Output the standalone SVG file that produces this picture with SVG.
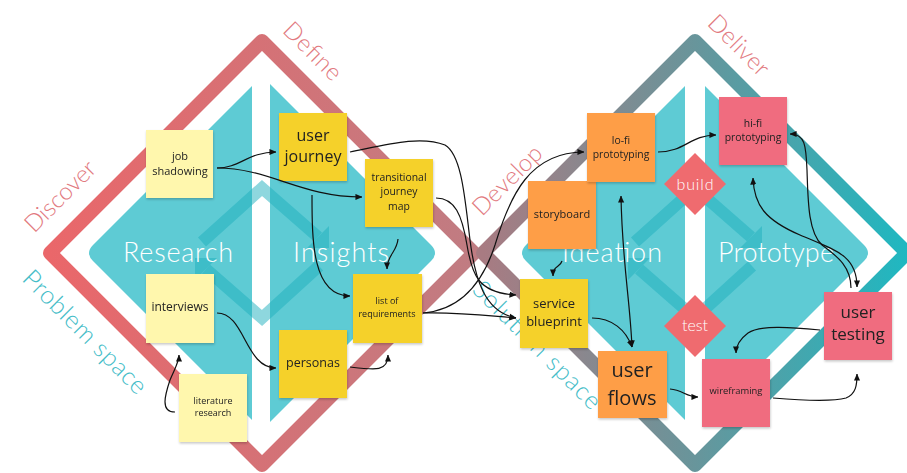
<svg xmlns="http://www.w3.org/2000/svg" width="907" height="473" viewBox="0 0 907 473">
  <defs>
    <style>
      .ring{fill:none;stroke-width:14;stroke-linejoin:round}
      .teal{fill:#5ecbd4}
      .chev{fill:none;stroke:#1fb0be;stroke-width:12;stroke-linejoin:miter}
      .head{fill:#1fb0be}
      .phase{font-family:"Lato","Open Sans","Liberation Sans",sans-serif;font-weight:300;font-size:27px;fill:#ffffff;text-anchor:middle}
      .stage{font-family:"Lato","Open Sans","Liberation Sans",sans-serif;font-weight:300;font-size:24px;fill:#e27a80;text-anchor:middle}
      .space{font-family:"Lato","Open Sans","Liberation Sans",sans-serif;font-weight:300;font-size:25px;fill:#45bdc8;text-anchor:middle}
      .gate{fill:#ef6b6f}
      .gatet{font-family:"Lato","Open Sans","Liberation Sans",sans-serif;font-weight:300;font-size:16px;fill:#ffffff;text-anchor:middle}
      .note{filter:url(#shadow)}
      .ly{fill:#fff7ad}
      .yl{fill:#f5d12a}
      .or{fill:#fe9e47}
      .pk{fill:#f06c7f}
      .nt{font-family:"Open Sans","Liberation Sans",sans-serif;fill:#222222;text-anchor:middle}
      .cn{fill:none;stroke:#111111;stroke-width:1.2}
    </style>
    <linearGradient id="ringL" gradientUnits="userSpaceOnUse" x1="50" y1="0" x2="474" y2="0">
      <stop offset="0" stop-color="#ea676a"/>
      <stop offset="1" stop-color="#c07c82"/>
    </linearGradient>
    <linearGradient id="ringR" gradientUnits="userSpaceOnUse" x1="483" y1="0" x2="907" y2="0">
      <stop offset="0" stop-color="#a87b82"/>
      <stop offset="0.5" stop-color="#68959b"/>
      <stop offset="1" stop-color="#1fb8c1"/>
    </linearGradient>
    <filter id="shadow" x="-10%" y="-10%" width="130%" height="130%">
      <feDropShadow dx="0.5" dy="1.5" stdDeviation="1" flood-color="#000" flood-opacity="0.22"/>
    </filter>
    <marker id="ah" viewBox="0 0 8 8" refX="7.5" refY="4" markerWidth="7" markerHeight="7" markerUnits="userSpaceOnUse" orient="auto-start-reverse">
      <path d="M0,0.5 L8,4 L0,7.5 z" fill="#111111"/>
    </marker>
  </defs>

  <rect width="907" height="473" fill="#ffffff"/>

  <!-- outer double-diamond rings -->
  <g id="rings">
    <path class="ring" stroke="url(#ringL)" d="M262,41 L474,253 L262,465 L50,253 Z"/>
    <path class="ring" stroke="url(#ringR)" d="M695,41 L907,253 L695,465 L483,253 Z"/>
  </g>

  <!-- teal inner diamonds, each split into two halves -->
  <g id="problem-core">
    <path class="teal" d="M252,86 L93,245 Q85,253 93,261 L252,420 Z"/>
    <path class="teal" d="M270,84 L431,245 Q439,253 431,261 L270,422 Z"/>
  </g>
  <g id="solution-core">
    <path class="teal" d="M685,86 L526,245 Q518,253 526,261 L685,420 Z"/>
    <path class="teal" d="M705,86 L864,245 Q872,253 864,261 L705,420 Z"/>
  </g>

  <!-- iteration cycles inside each diamond -->
  <g id="cycle-left" opacity="0.5">
    <polyline class="chev" points="202,242 262,188 318,237"/>
    <polygon class="head" points="329,248 329,226 307,248"/>
    <polyline class="chev" points="206,269 262,318 319,266"/>
    <polygon class="head" points="195,258 195,280 217,258"/>
  </g>
  <g id="cycle-right" opacity="0.5">
    <polyline class="chev" points="635,242 695,188 751,237"/>
    <polygon class="head" points="762,248 762,226 740,248"/>
    <polyline class="chev" points="639,269 695,318 752,266"/>
    <polygon class="head" points="628,258 628,280 650,258"/>
  </g>

  <!-- phase names -->
  <g id="phases">
    <text class="phase" x="178" y="262" textLength="110">Research</text>
    <text class="phase" x="341" y="262" textLength="96">Insights</text>
    <text class="phase" x="612" y="262" textLength="100">Ideation</text>
    <text class="phase" x="776" y="262" textLength="116">Prototype</text>
  </g>

  <!-- stage labels along the rings -->
  <g id="stages">
    <text class="stage" transform="translate(66,202) rotate(-45)" textLength="90">Discover</text>
    <text class="stage" transform="translate(307,57) rotate(45)" textLength="72">Define</text>
    <text class="stage" transform="translate(513,186) rotate(-45)" textLength="88">Develop</text>
    <text class="stage" transform="translate(733,51) rotate(45)" textLength="76">Deliver</text>
    <text class="space" transform="translate(79,338) rotate(45)" textLength="164">Problem space</text>
    <text class="space" transform="translate(531,351) rotate(45)" textLength="170">Solution space</text>
  </g>

  <!-- build / test gates -->
  <g id="gate-build">
    <path class="gate" d="M695,153 L726,184 L695,215 L664,184 Z"/>
    <text class="gatet" x="695" y="190" textLength="37">build</text>
  </g>
  <g id="gate-test">
    <path class="gate" d="M695,295 L726,326 L695,357 L664,326 Z"/>
    <text class="gatet" x="695" y="331" textLength="26">test</text>
  </g>

  <!-- sticky notes -->
  <g id="job-shadowing" class="note">
    <rect class="ly" x="146" y="130" width="67" height="68"/>
    <text class="nt" font-size="11"><tspan x="180" y="160">job</tspan><tspan x="180" y="175">shadowing</tspan></text>
  </g>
  <g id="user-journey" class="note">
    <rect class="yl" x="279" y="113" width="68" height="68"/>
    <text class="nt" font-size="16"><tspan x="313" y="141">user</tspan><tspan x="313" y="162">journey</tspan></text>
  </g>
  <g id="transitional-journey-map" class="note">
    <rect class="yl" x="365" y="159" width="68" height="68"/>
    <text class="nt" font-size="10.4"><tspan x="399" y="181">transitional</tspan><tspan x="399" y="195">journey</tspan><tspan x="399" y="210">map</tspan></text>
  </g>
  <g id="interviews" class="note">
    <rect class="ly" x="146" y="274" width="68" height="69"/>
    <text class="nt" font-size="12" x="180" y="311">interviews</text>
  </g>
  <g id="literature-research" class="note">
    <rect class="ly" x="179" y="374" width="68" height="68"/>
    <text class="nt" font-size="9"><tspan x="213" y="404">literature</tspan><tspan x="213" y="416">research</tspan></text>
  </g>
  <g id="personas" class="note">
    <rect class="yl" x="279" y="330" width="68" height="68"/>
    <text class="nt" font-size="12.5" x="313" y="367">personas</text>
  </g>
  <g id="list-of-requirements" class="note">
    <rect class="yl" x="353" y="274" width="69" height="69"/>
    <text class="nt" font-size="9"><tspan x="387" y="304">list of</tspan><tspan x="387" y="317">requirements</tspan></text>
  </g>
  <g id="storyboard" class="note">
    <rect class="or" x="528" y="181" width="68" height="68"/>
    <text class="nt" font-size="11" x="562" y="218">storyboard</text>
  </g>
  <g id="lo-fi-prototyping" class="note">
    <rect class="or" x="587" y="113" width="68" height="69"/>
    <text class="nt" font-size="10.4"><tspan x="621" y="144">lo-fi</tspan><tspan x="621" y="158">prototyping</tspan></text>
  </g>
  <g id="hi-fi-prototyping" class="note">
    <rect class="pk" x="719" y="97" width="68" height="68"/>
    <text class="nt" font-size="10.4"><tspan x="753" y="127">hi-fi</tspan><tspan x="753" y="141">prototyping</tspan></text>
  </g>
  <g id="service-blueprint" class="note">
    <rect class="yl" x="520" y="279" width="68" height="69"/>
    <text class="nt" font-size="13"><tspan x="554" y="308">service</tspan><tspan x="554" y="326">blueprint</tspan></text>
  </g>
  <g id="user-flows" class="note">
    <rect class="or" x="598" y="351" width="69" height="67"/>
    <text class="nt" font-size="20"><tspan x="632" y="377">user</tspan><tspan x="632" y="405">flows</tspan></text>
  </g>
  <g id="wireframing" class="note">
    <rect class="pk" x="702" y="359" width="68" height="68"/>
    <text class="nt" font-size="9.4" x="736" y="394">wireframing</text>
  </g>
  <g id="user-testing" class="note">
    <rect class="pk" x="824" y="292" width="68" height="68"/>
    <text class="nt" font-size="17"><tspan x="858" y="318">user</tspan><tspan x="858" y="340">testing</tspan></text>
  </g>

  <!-- connectors -->
  <g id="connectors" marker-end="url(#ah)">
    <path class="cn" d="M217,168 C240,168 248,152 276,152"/>
    <path class="cn" d="M217,168 C270,168 300,197 362,197"/>
    <path class="cn" d="M350,152 C385,145 420,135 445,145 C462,155 465,200 470,240 C475,280 485,312 516,318"/>
    <path class="cn" d="M436,198 C455,198 462,215 467,245 C472,275 478,293 516,295"/>
    <path class="cn" d="M423,313 C460,310 482,285 495,245 C510,195 530,152 584,152"/>
    <path class="cn" d="M423,313 C460,312 490,316 516,318"/>
    <path class="cn" d="M398,239 C397,252 387,255 387,269"/>
    <path class="cn" d="M312,195 C312,240 312,296 350,296"/>
    <path class="cn" d="M217,313 C245,313 245,368 276,368"/>
    <path class="cn" d="M350,367 C375,370 388,372 388,355"/>
    <path class="cn" d="M175,412 C160,412 165,395 170,380 C175,368 179,362 179,355"/>
    <path class="cn" d="M562,261 C560,268 553,265 553,276"/>
    <path class="cn" d="M658,152 C685,152 690,135 716,135"/>
    <path class="cn" marker-start="url(#ah)" d="M621,196 C622,260 630,300 632,347"/>
    <path class="cn" d="M592,318 C612,318 626,330 632,347"/>
    <path class="cn" d="M670,389 C683,390 686,397 698,397"/>
    <path class="cn" d="M773,398 C810,401 835,401 846,398 C856,394 857,385 857,374"/>
    <path class="cn" d="M820,330 C790,327 760,325 748,333 C740,339 736,345 736,353"/>
    <path class="cn" d="M851,288 C851,265 835,255 822,245 C808,232 808,200 807,170 C806,145 805,134 790,134"/>
    <path class="cn" marker-start="url(#ah)" d="M753,178 C754,205 765,220 800,235 C835,250 857,255 857,287"/>
  </g>
</svg>
